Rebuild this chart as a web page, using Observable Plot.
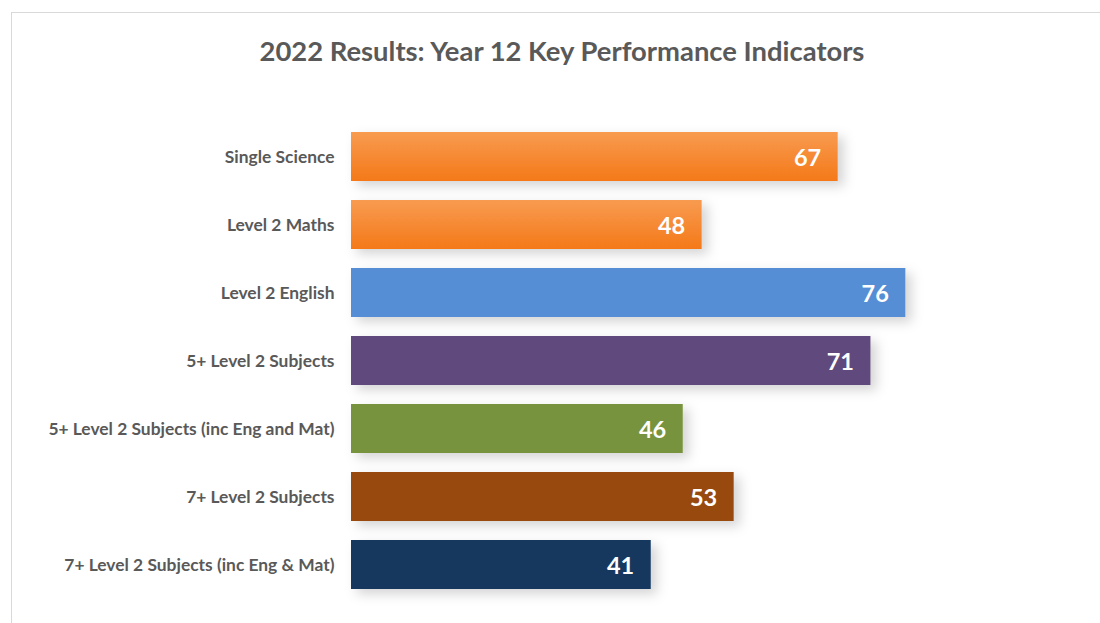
<!DOCTYPE html>
<html><head><meta charset="utf-8">
<script src="https://cdn.jsdelivr.net/npm/d3@7"></script>
<script src="https://cdn.jsdelivr.net/npm/@observablehq/plot@0.6"></script>
<style>
body{margin:0;background:#fff;}
#wrap{position:relative;width:1100px;height:623px;overflow:hidden;font-family:Lato,sans-serif;}
#frame{position:absolute;left:11px;top:12px;width:1300px;height:800px;border:1px solid #d9d9d9;box-sizing:border-box;}
#title{position:absolute;left:0;top:34px;width:1124px;text-align:center;font-family:Lato,sans-serif;font-weight:bold;font-size:27.4px;color:#595959;z-index:2;}
#chart{position:absolute;left:0;top:0;}
#chart svg{background:transparent;}
#chart g[aria-label="y-axis tick label"] text{font-weight:bold;}
</style></head>
<body>
<div id="wrap">
  <div id="frame"></div>
  <div id="title">2022 Results: Year 12 Key Performance Indicators</div>
  <div id="chart"></div>
</div>
<script>
const categories = [
  "Single Science",
  "Level 2 Maths",
  "Level 2 English",
  "5+ Level 2 Subjects",
  "5+ Level 2 Subjects (inc Eng and Mat)",
  "7+ Level 2 Subjects",
  "7+ Level 2 Subjects (inc Eng & Mat)"
];
const values = [66.9, 48.2, 76.2, 71.4, 45.6, 52.6, 41.2];
const valueLabels = ["67", "48", "76", "71", "46", "53", "41"];
const barColors = ["url(#gOrange)", "url(#gOrange)", "#558ED5", "#604A7B", "#77933C", "#984807", "#17375E"];

const data = categories.map((c, i) => ({category: c, value: values[i], label: valueLabels[i], color: barColors[i]}));

const chart = Plot.plot({
  width: 1100,
  height: 623,
  marginLeft: 351,
  marginRight: 21.5,
  marginTop: 112,
  marginBottom: 14,
  style: {color: "#595959", fontFamily: "Lato, sans-serif", background: "transparent"},
  x: {domain: [0, 100], axis: null},
  y: {domain: categories, padding: 0.283, axis: null},
  color: {type: "identity"},
  marks: [
    Plot.barX(data, {x: "value", y: "category", fill: "color"}),
    Plot.text(data, {x: "value", y: "category", text: "label", textAnchor: "end", dx: -17, dy: 1, fill: "white", fontSize: 23.5, fontWeight: "bold"}),
    Plot.axisY({tickSize: 0, tickPadding: 17, fontSize: 17.4, label: null})
  ]
});

const ns = "http://www.w3.org/2000/svg";
const defs = document.createElementNS(ns, "defs");
defs.innerHTML = `
  <linearGradient id="gOrange" x1="0" y1="0" x2="0" y2="1">
    <stop offset="0" stop-color="#F89B50"/>
    <stop offset="1" stop-color="#F47919"/>
  </linearGradient>
  <filter id="shadow" x="-10%" y="-10%" width="130%" height="130%">
    <feDropShadow dx="6" dy="5" stdDeviation="6" flood-color="#000" flood-opacity="0.17"/>
  </filter>`;
chart.insertBefore(defs, chart.firstChild);
const barG = chart.querySelector('g[aria-label="bar"]');
if (barG) barG.setAttribute("filter", "url(#shadow)");
document.getElementById("chart").appendChild(chart);
</script>
</body></html>
